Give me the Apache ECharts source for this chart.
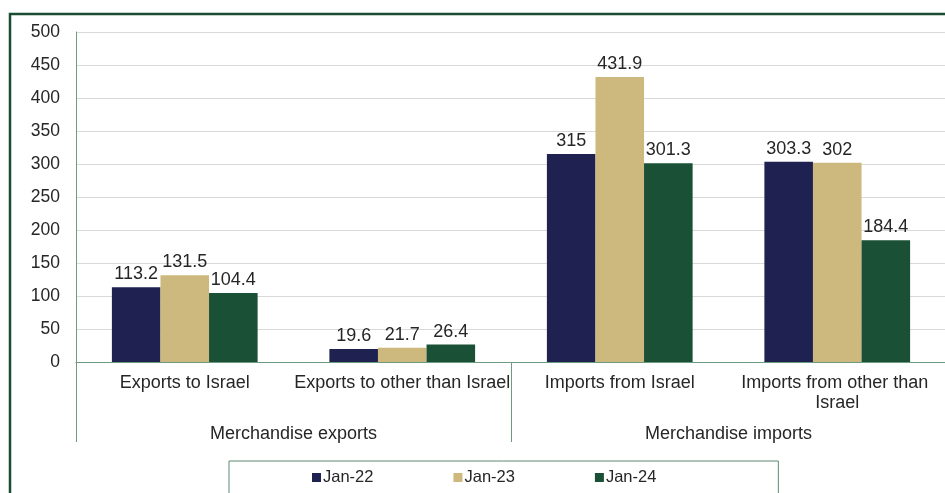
<!DOCTYPE html>
<html>
<head>
<meta charset="utf-8">
<script src="https://cdn.jsdelivr.net/npm/echarts@6/dist/echarts.min.js"></script>
<style>
  html, body { margin: 0; padding: 0; background: #fff; }
  #chart { width: 945px; height: 493px; }
</style>
</head>
<body>
<div id="chart"></div>
<script>
// categories and values
var categories = ["Exports to Israel", "Exports to other than Israel", "Imports from Israel", "Imports from other than Israel"];
var groups = ["Merchandise exports", "Merchandise imports"];
var seriesNames = ["Jan-22", "Jan-23", "Jan-24"];
var jan22 = [113.2, 19.6, 315, 303.3];
var jan23 = [131.5, 21.7, 431.9, 302];
var jan24 = [104.4, 26.4, 301.3, 184.4];
var colors = ["#1f2251", "#cdb97d", "#1a5035"];

var font = "Arial, 'Liberation Sans', sans-serif";
var txt = "#262626";
var axisCol = "#6f9a80";

function bar(name, data, color) {
    return {
        name: name,
        type: "bar",
        data: data,
        barGap: "0%",
        barCategoryGap: "33%",
        itemStyle: { color: color },
        label: {
            show: true,
            position: "top",
            distance: 4,
            color: txt,
            fontSize: 18,
            fontFamily: font
        }
    };
}

var myChart = echarts.init(document.getElementById("chart"));
myChart.setOption({
    animation: false,
    backgroundColor: "#fff",
    textStyle: { fontFamily: font },
    grid: { left: 76, top: 32, right: -1, bottom: 131, outerBoundsMode: "none", containLabel: false },
    graphic: [{
        type: "rect",
        shape: { x: 10, y: 14, width: 945, height: 500 },
        style: { fill: null, stroke: "#1b4d35", lineWidth: 2.5 },
        silent: true
    }],
    legend: {
        data: seriesNames,
        left: 229,
        top: 461,
        padding: [8, 122, 20, 83],
        borderColor: "#5f8a72",
        borderWidth: 1,
        itemWidth: 9,
        itemHeight: 9,
        itemGap: 80,
        icon: "rect",
        textStyle: { color: txt, fontSize: 16.5, fontFamily: font, padding: [0, 0, 0, -3] }
    },
    xAxis: [{
        type: "category",
        data: categories,
        position: "bottom",
        axisLine: { lineStyle: { color: axisCol } },
        axisTick: { show: false },
        axisLabel: {
            color: txt,
            fontSize: 18,
            fontFamily: font,
            margin: 11,
            lineHeight: 20,
            width: 217,
            overflow: "break",
            interval: 0
        }
    }, {
        type: "category",
        data: groups,
        position: "bottom",
        axisLine: { show: false },
        axisTick: { show: true, length: 80, lineStyle: { color: axisCol } },
        axisLabel: { color: txt, fontSize: 18, fontFamily: font, margin: 63 }
    }],
    yAxis: {
        type: "value",
        min: 0,
        max: 500,
        interval: 50,
        axisLine: { show: true, lineStyle: { color: axisCol } },
        axisTick: { show: false },
        splitLine: { lineStyle: { color: "#d9d9d9" } },
        axisLabel: { color: txt, fontSize: 17.5, fontFamily: font, margin: 16 }
    },
    series: [
        bar(seriesNames[0], jan22, colors[0]),
        bar(seriesNames[1], jan23, colors[1]),
        bar(seriesNames[2], jan24, colors[2])
    ]
});
</script>
</body>
</html>
